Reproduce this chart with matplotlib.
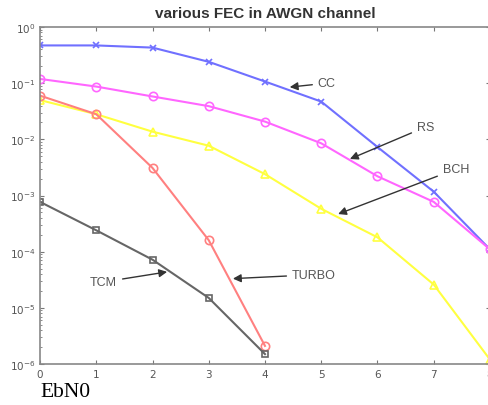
import matplotlib
matplotlib.use('Agg')
import matplotlib.pyplot as plt
import numpy as np
from matplotlib.ticker import LogLocator, NullFormatter

ebn0 = [0, 1, 2, 3, 4, 5, 6, 7, 8]
ebn0_short = [0, 1, 2, 3, 4]

ber_cc = [0.47, 0.47, 0.43, 0.24, 0.107, 0.047, 0.0073, 0.00117, 1.1e-4]
ber_rs = [0.119, 0.087, 0.058, 0.039, 0.0207, 0.0085, 0.0022, 7.7e-4, 1.1e-4]
ber_bch = [0.05, 0.028, 0.0137, 0.0077, 0.0024, 5.8e-4, 1.8e-4, 2.6e-5, 1.2e-6]
ber_turbo = [0.06, 0.028, 0.0031, 1.6e-4, 2.1e-6]
ber_tcm = [7.7e-4, 2.4e-4, 7.2e-5, 1.5e-5, 1.5e-6]

# label text position and arrow tip, in data coords
labels = ['CC', 'RS', 'BCH', 'TURBO', 'TCM']
label_xy = [(4.94, 10**-1.0), (6.70, 10**-1.78), (7.16, 10**-2.53),
            (4.48, 10**-4.41), (0.89, 10**-4.54)]
tip_xy = [(4.44, 10**-1.07), (5.51, 10**-2.35), (5.30, 10**-3.33),
          (3.43, 10**-4.48), (2.26, 10**-4.36)]

fig = plt.figure(figsize=(4.88, 4.06), dpi=100)
ax = fig.add_axes([0.082, 0.101, 0.922, 0.830])

lw = 1.5
ax.semilogy(ebn0, ber_cc, '-x', color='#7070ff', lw=lw, ms=5, mew=1.2)
ax.semilogy(ebn0, ber_rs, '-o', color='#ff66ff', lw=lw, ms=6, mfc='none', mew=1.2)
ax.semilogy(ebn0, ber_bch, '-^', color='#ffff40', lw=lw, ms=6, mfc='none', mew=1.2)
ax.semilogy(ebn0_short, ber_turbo, '-o', color='#ff8080', lw=lw, ms=6, mfc='none', mew=1.2)
ax.semilogy(ebn0_short, ber_tcm, '-s', color='#666666', lw=lw, ms=5, mfc='none', mew=1.2)

for txt, xy_t, xy_a in zip(labels, label_xy, tip_xy):
    ax.annotate(txt, xy=xy_a, xytext=xy_t, ha='left', va='center',
                fontsize=9, color='#555555', family='Liberation Sans',
                arrowprops=dict(arrowstyle='-|>', color='#333333', lw=1,
                                mutation_scale=12, shrinkA=2, shrinkB=0))

ax.set_xlim(0, 8)
ax.set_ylim(1e-6, 1)
ax.set_xticks(ebn0)
ax.yaxis.set_major_locator(LogLocator(base=10, numticks=10))
ax.yaxis.set_minor_locator(LogLocator(base=10, subs=np.arange(2, 10), numticks=10))
ax.yaxis.set_minor_formatter(NullFormatter())
ax.tick_params(which='both', direction='in', top=True, right=True,
               colors='#777777', labelcolor='#555555', labelsize=7.5)
ax.tick_params(which='major', length=3)
ax.tick_params(which='minor', length=1.5)
for sp in ax.spines.values():
    sp.set_color('#888888')
    sp.set_linewidth(1.2)

ax.set_title('various FEC in AWGN channel', fontsize=11, fontweight='bold',
             color='#333333', family='Liberation Sans', pad=7)
fig.text(0.082, 0.022, 'EbN0', fontsize=15.5, family='Liberation Serif',
         color='black', ha='left', va='baseline')

fig.savefig('out.png', dpi=100)
